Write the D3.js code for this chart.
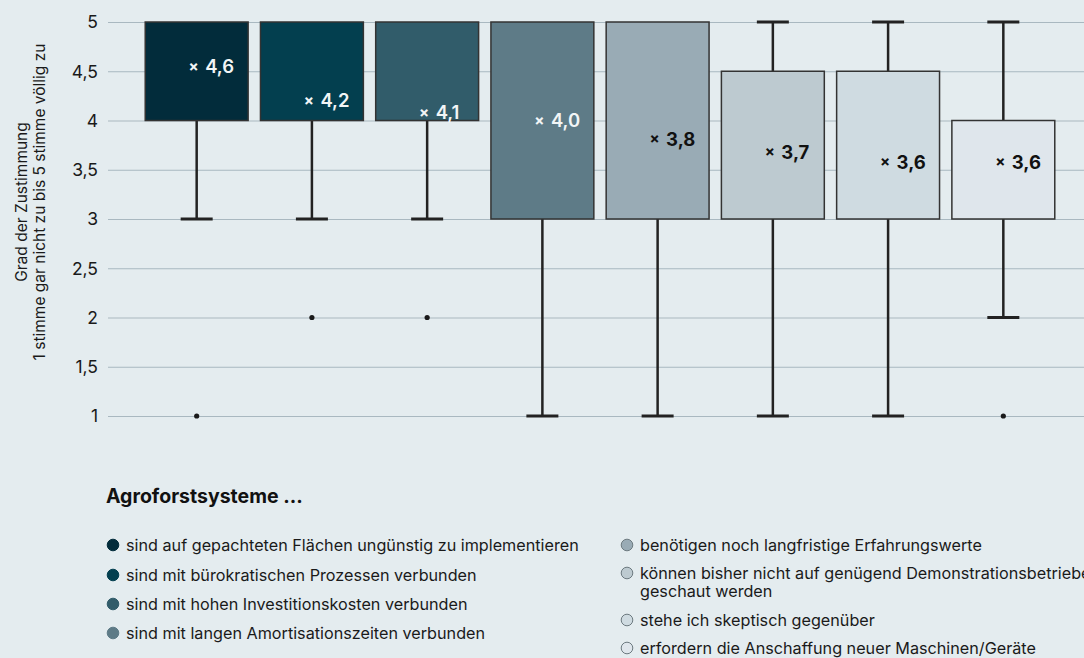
<!DOCTYPE html>
<html><head><meta charset="utf-8">
<script src="https://cdn.jsdelivr.net/npm/d3@7"></script>
<style>
html,body{margin:0;padding:0;background:#e4ecef;}
svg{display:block;font-family:"Inter","Noto Sans",sans-serif;}
</style></head>
<body>
<svg id="chart" width="1084" height="658"></svg>
<script>
const categories = [
  "sind auf gepachteten Flächen ungünstig zu implementieren",
  "sind mit bürokratischen Prozessen verbunden",
  "sind mit hohen Investitionskosten verbunden",
  "sind mit langen Amortisationszeiten verbunden",
  "benötigen noch langfristige Erfahrungswerte",
  "können bisher nicht auf genügend Demonstrationsbetrieben angeschaut werden",
  "stehe ich skeptisch gegenüber",
  "erfordern die Anschaffung neuer Maschinen/Geräte"
];
const legendLines = [
  ["sind auf gepachteten Flächen ungünstig zu implementieren"],
  ["sind mit bürokratischen Prozessen verbunden"],
  ["sind mit hohen Investitionskosten verbunden"],
  ["sind mit langen Amortisationszeiten verbunden"],
  ["benötigen noch langfristige Erfahrungswerte"],
  ["können bisher nicht auf genügend Demonstrationsbetrieben an-", "geschaut werden"],
  ["stehe ich skeptisch gegenüber"],
  ["erfordern die Anschaffung neuer Maschinen/Geräte"]
];
const whiskerLow  = [3, 3, 3, 1, 1, 1, 1, 2];
const q1          = [4, 4, 4, 3, 3, 3, 3, 3];
const q3          = [5, 5, 5, 5, 5, 4.5, 4.5, 4];
const whiskerHigh = [5, 5, 5, 5, 5, 5, 5, 5];
const means       = [4.55, 4.2, 4.08, 4.0, 3.81, 3.68, 3.58, 3.58];
const meanLabels  = ["4,6", "4,2", "4,1", "4,0", "3,8", "3,7", "3,6", "3,6"];
const outliers    = [[1], [2], [2], [], [], [], [], [1]];
const colors      = ["#022c3b", "#033f4f", "#315c6a", "#5e7b87", "#99abb5", "#bdcad0", "#cfdbe1", "#dfe6ec"];
const yTicks      = [1, 1.5, 2, 2.5, 3, 3.5, 4, 4.5, 5];

const svg = d3.select("#chart");
const W = 1084;

const x = d3.scaleBand().domain(d3.range(categories.length)).range([139, 1061]).paddingInner(0.107).paddingOuter(0.054);
const y = d3.scaleLinear().domain([1, 5]).range([416, 22]);
const fmt = d => String(d).replace(".", ",");

// grid
const yAxis = d3.axisLeft(y).tickValues(yTicks).tickFormat(fmt).tickSize(-(W - 108)).tickPadding(10);
const gAxis = svg.append("g").attr("transform", "translate(108,0)").call(yAxis);
gAxis.select(".domain").remove();
gAxis.selectAll(".tick line").attr("stroke", "#a9b8c0").attr("stroke-width", 1.2);
gAxis.selectAll(".tick text").attr("fill", "#1a1a1a").attr("font-size", 17.5).attr("font-family", "Inter, sans-serif").attr("dy", "0.34em");

// axis title
const at = svg.append("text").attr("transform", "translate(0,202) rotate(-90)")
  .attr("text-anchor", "middle").attr("font-size", 15.5).attr("fill", "#1a1a1a");
at.append("tspan").attr("x", 0).attr("y", 27).text("Grad der Zustimmung");
at.append("tspan").attr("x", 0).attr("y", 45).text("1 stimme gar nicht zu bis 5 stimme völlig zu");

const bw = x.bandwidth();
const g = svg.append("g");
categories.forEach((c, i) => {
  const cx = x(i) + bw / 2;
  // whiskers
  g.append("line").attr("x1", cx).attr("x2", cx).attr("y1", y(whiskerLow[i])).attr("y2", y(q1[i]))
    .attr("stroke", "#222").attr("stroke-width", 2.5);
  g.append("line").attr("x1", cx).attr("x2", cx).attr("y1", y(whiskerHigh[i])).attr("y2", y(q3[i]))
    .attr("stroke", "#222").attr("stroke-width", 2.5);
  [whiskerLow[i], whiskerHigh[i]].forEach(v => {
    if (v === q1[i] || v === q3[i]) return;
    g.append("line").attr("x1", cx - 16).attr("x2", cx + 16).attr("y1", y(v)).attr("y2", y(v))
      .attr("stroke", "#222").attr("stroke-width", 3);
  });
  // box
  g.append("rect").attr("x", x(i)).attr("y", y(q3[i])).attr("width", bw).attr("height", y(q1[i]) - y(q3[i]))
    .attr("fill", colors[i]).attr("stroke", "#333").attr("stroke-width", 1.5);
  // outliers
  outliers[i].forEach(o => {
    g.append("circle").attr("cx", cx).attr("cy", y(o)).attr("r", 2.6).attr("fill", "#1a1a1a");
  });
  // mean label
  const light = i >= 4;
  const tc = light ? "#111" : "#f2f5f6";
  const ty = y(means[i]);
  g.append("text").attr("x", cx - 3).attr("y", ty).attr("dy", "0.35em").attr("text-anchor", "middle")
    .attr("font-size", 15).attr("font-weight", 700).attr("fill", tc).text("×");
  g.append("text").attr("x", cx + 8.5).attr("y", ty).attr("dy", "0.36em")
    .attr("font-size", 18.5).attr("font-weight", light ? 700 : 600).attr("fill", tc).text(meanLabels[i]);
});

// legend
svg.append("text").attr("x", 106).attr("y", 503).attr("font-size", 19.5).attr("font-weight", 700)
  .attr("fill", "#111").text("Agroforstsysteme ...");
const col1Y = [545, 575, 604, 633];
const col2Y = [545, 573, 620, 648];
legendLines.forEach((lines, i) => {
  const col = i < 4 ? 0 : 1;
  const lx = col === 0 ? 113 : 627;
  const ly = col === 0 ? col1Y[i] : col2Y[i - 4];
  svg.append("circle").attr("cx", lx).attr("cy", ly).attr("r", 5.8).attr("fill", colors[i])
    .attr("stroke", i < 4 ? colors[i] : "#6d7a80").attr("stroke-width", 1);
  const t = svg.append("text").attr("font-size", 16.2).attr("fill", "#1a1a1a");
  lines.forEach((ln, k) => {
    t.append("tspan").attr("x", lx + 13).attr("y", ly + k * 18).attr("dy", "0.35em").text(ln);
  });
});
</script>
</body></html>
